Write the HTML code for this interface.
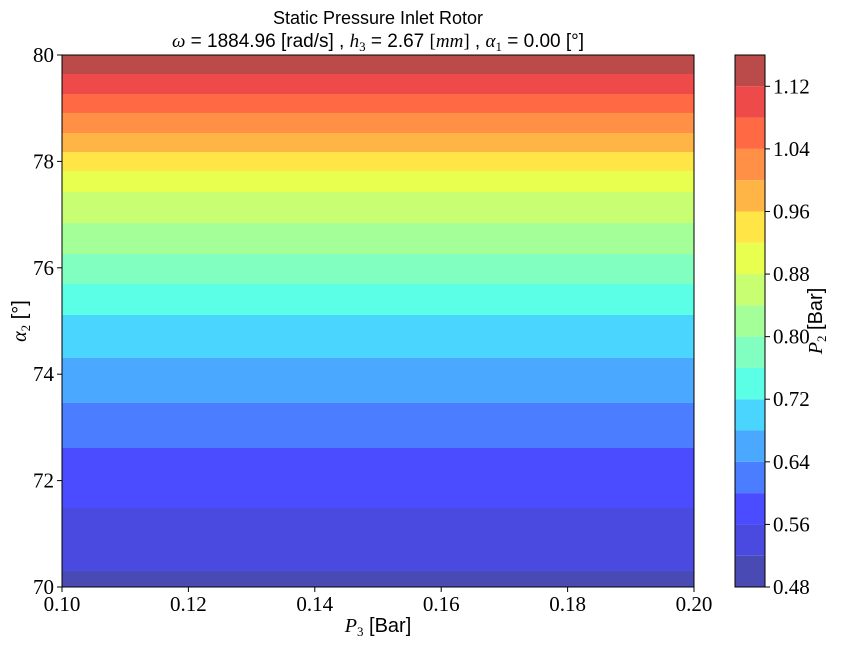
<!DOCTYPE html>
<html><head><meta charset="utf-8"><style>body{margin:0;background:#fff}svg{display:block}text{font-family:"Liberation Serif",serif;fill:#000}.s{font-family:"Liberation Sans",sans-serif}</style></head>
<body>
<svg id="c" width="864" height="648">
<text x="378" y="24" text-anchor="middle" font-size="18" class="s">Static Pressure Inlet Rotor</text>
<text x="378" y="47" text-anchor="middle" font-size="19"><tspan font-style="italic">ω</tspan><tspan class="s"> = 1884.96 [rad/s] , </tspan><tspan font-style="italic">h</tspan><tspan font-size="13" dy="4">3</tspan><tspan dy="-4" class="s"> = 2.67 </tspan><tspan>[</tspan><tspan font-style="italic">mm</tspan><tspan>]</tspan><tspan class="s"> , </tspan><tspan font-style="italic">α</tspan><tspan font-size="13" dy="4">1</tspan><tspan dy="-4" class="s"> = 0.00 [°]</tspan></text>
<g id="plot"></g>
<text x="378" y="632" text-anchor="middle" font-size="20"><tspan font-style="italic">P</tspan><tspan font-size="13" dy="4">3</tspan><tspan dy="-4" class="s"> [Bar]</tspan></text>
<text transform="translate(26,321) rotate(-90)" text-anchor="middle" font-size="20"><tspan font-style="italic">α</tspan><tspan font-size="13" dy="4">2</tspan><tspan dy="-4" class="s"> [°]</tspan></text>
<text transform="translate(822,321) rotate(-90)" text-anchor="middle" font-size="20"><tspan font-style="italic">P</tspan><tspan font-size="13" dy="4">2</tspan><tspan dy="-4" class="s"> [Bar]</tspan></text>
</svg>
<script>
const levels=[0.48,0.52,0.56,0.60,0.64,0.68,0.72,0.76,0.80,0.84,0.88,0.92,0.96,1.00,1.04,1.08,1.12,1.16];
const boundaries=[70.301,71.485,72.613,73.459,74.305,75.113,75.695,76.259,76.842,77.425,77.820,78.177,78.534,78.910,79.267,79.643];
const bandColors=["#4a4ab5","#4a4ae0","#4b4bff","#4a7dff","#4aa8ff","#4ad5ff","#5affe5","#80ffc0","#a5ff98","#c8ff72","#e8ff50","#ffe545","#ffb545","#ff9045","#ff6a45","#ee4a4a","#bb4a4a"];
const xTicks=[0.10,0.12,0.14,0.16,0.18,0.20];
const yTicks=[70,72,74,76,78,80];
const cbTicks=[0.48,0.56,0.64,0.72,0.80,0.88,0.96,1.04,1.12];
const NS="http://www.w3.org/2000/svg";
const L=62,R=694,T=55,B=587,CBL=735,CBR=765;
const xs=v=>L+(v-0.10)/(0.10)*(R-L);
const ys=v=>B-(v-70)/10*(B-T);
const cs=v=>B-(v-0.48)/(1.16-0.48)*(B-T);
const g=document.getElementById('plot');
function mk(t,a){const e=document.createElementNS(NS,t);for(const k in a)e.setAttribute(k,a[k]);g.appendChild(e);return e;}
const edges=[70,...boundaries,80];
for(let i=0;i<bandColors.length;i++){
 const y1=ys(edges[i+1]),y0=ys(edges[i]);
 const r=mk('rect',{x:L,y:y1,width:R-L,height:y0-y1,fill:bandColors[i]});
 
 
 const c1=cs(levels[i+1]),c0=cs(levels[i]);
 const cr=mk('rect',{x:CBL,y:c1,width:CBR-CBL,height:c0-c1,fill:bandColors[i]});
 
 
}
const f=mk('rect',{x:L,y:T,width:R-L,height:B-T,fill:'none',stroke:'#000','stroke-width':1});


const cf=mk('rect',{x:CBL,y:T,width:CBR-CBL,height:B-T,fill:'none',stroke:'#000','stroke-width':1});


xTicks.forEach(v=>{const x=xs(v);mk('line',{x1:x,x2:x,y1:B,y2:B+5,stroke:'#000'});
 const t=mk('text',{x:x,y:B+24,'text-anchor':'middle','font-size':21});t.textContent=v.toFixed(2);
 
 });
yTicks.forEach(v=>{const y=ys(v);mk('line',{x1:L-5,x2:L,y1:y,y2:y,stroke:'#000'});
 const t=mk('text',{x:L-8,y:y+7,'text-anchor':'end','font-size':21});t.textContent=v;
 
 });
cbTicks.forEach(v=>{const y=cs(v);mk('line',{x1:CBR,x2:CBR+5,y1:y,y2:y,stroke:'#000'});
 const t=mk('text',{x:CBR+8,y:y+7,'font-size':21});t.textContent=v.toFixed(2);
 
 });
</script>
</body></html>
